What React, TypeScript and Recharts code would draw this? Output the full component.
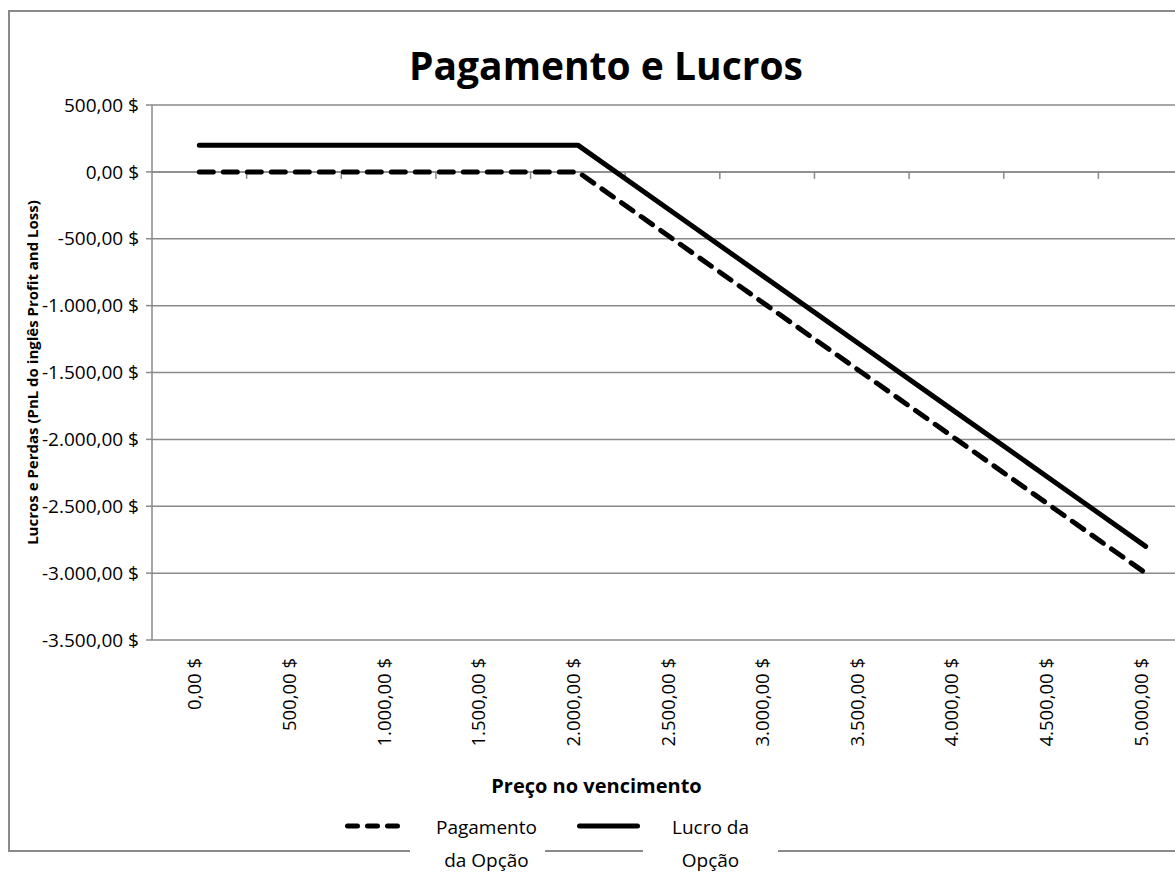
import { LineChart, Line, XAxis, YAxis, CartesianGrid, ReferenceLine, Legend } from "recharts";

const prices = [0, 500, 1000, 1500, 2000, 2500, 3000, 3500, 4000, 4500, 5000];
const payoff = [0, 0, 0, 0, 0, -500, -1000, -1500, -2000, -2500, -3000];
const profit = [200, 200, 200, 200, 200, -300, -800, -1300, -1800, -2300, -2800];
const yTicks = [500, 0, -500, -1000, -1500, -2000, -2500, -3000, -3500];

const data = prices.map((p, i) => ({ price: p, pagamento: payoff[i], lucro: profit[i] }));

const FONT = "'Open Sans', sans-serif";
const GRAY = "#8a8a8a";
const W = 1200;
const H = 864;

// "1.000,00 $" style
function fmt(v: number) {
  const sign = v < 0 ? "-" : "";
  const int = Math.abs(Math.round(v)).toString().replace(/\B(?=(\d{3})+(?!\d))/g, ".");
  return `${sign}${int},00 $`;
}

const PriceTick = (props: any) => {
  const { x, y, payload } = props;
  return (
    <g transform={`translate(${x},${y})`}>
      <text transform="rotate(-90)" x={0} y={2} textAnchor="end" fontSize={18.5} fontFamily={FONT} fill="#000">
        {fmt(payload.value)}
      </text>
    </g>
  );
};

// zero line doubles as the category axis: little ticks between categories
const ZeroAxis = (props: any) => {
  const { x1, x2, y1 } = props;
  const step = (x2 - x1) / prices.length;
  const marks = [];
  for (let k = 1; k < prices.length + 1; k++) {
    const x = x1 + k * step;
    marks.push(<line key={k} x1={x} x2={x} y1={y1} y2={y1 + 7} stroke={GRAY} strokeWidth={1.5} />);
  }
  return (
    <g>
      <line x1={x1} x2={x2} y1={y1} y2={y1} stroke={GRAY} strokeWidth={1.5} />
      {marks}
    </g>
  );
};

const legendItems = [
  { lines: ["Pagamento", "da Opção"], dash: "10 10", iconLeft: 332, iconLen: 50, textLeft: 402, pad: 18 },
  { lines: ["Lucro da", "Opção"], dash: undefined, iconLeft: 564, iconLen: 58, textLeft: 635, pad: 0 },
];

const LegendBox = () => (
  <div style={{ position: "relative", width: W, height: 66, fontFamily: FONT }}>
    {legendItems.map((it, i) => (
      <div key={i}>
        <svg
          width={it.iconLen + 15}
          height={12}
          style={{ position: "absolute", left: it.iconLeft, top: 12 }}
        >
          <line
            x1={7.5}
            x2={7.5 + it.iconLen}
            y1={6}
            y2={6}
            stroke="#000"
            strokeWidth={5}
            strokeLinecap="round"
            strokeDasharray={it.dash}
          />
        </svg>
        <div
          style={{
            position: "absolute",
            left: it.textLeft,
            top: 3,
            width: 135,
            paddingLeft: it.pad,
            boxSizing: "border-box",
            background: "#fff",
            textAlign: "center",
            fontSize: 19,
            lineHeight: "33px",
            color: "#000",
          }}
        >
          {it.lines.map((l) => (
            <div key={l}>{l}</div>
          ))}
        </div>
      </div>
    ))}
  </div>
);

export default function App() {
  return (
    <div
      style={{
        position: "fixed",
        left: 8,
        top: 10,
        width: 1167,
        height: H,
        overflow: "hidden",
        background: "#fff",
      }}
    >
      <div
        style={{
          position: "absolute",
          left: 0,
          top: 0,
          width: 1300,
          height: 842,
          border: `2px solid ${GRAY}`,
          boxSizing: "border-box",
        }}
      />
      <LineChart width={W} height={H} data={data} margin={{ top: 95, right: 15, bottom: 0, left: 0 }}>
        <CartesianGrid vertical={false} stroke={GRAY} strokeWidth={1.5} />
        <XAxis
          dataKey="price"
          type="number"
          domain={[-250, 5250]}
          ticks={prices}
          interval={0}
          axisLine={false}
          tickLine={false}
          tickSize={0}
          tickMargin={18}
          height={168}
          tick={<PriceTick />}
          label={{
            content: (p: any) => {
              const vb = p.viewBox;
              return (
                <text
                  x={vb.x + vb.width / 2 - 76}
                  y={vb.y + 153}
                  textAnchor="middle"
                  fontSize={20}
                  fontWeight="bold"
                  fontFamily={FONT}
                  fill="#000"
                >
                  Preço no vencimento
                </text>
              );
            },
          }}
        />
        <YAxis
          width={144}
          domain={[-3500, 500]}
          ticks={yTicks}
          interval={0}
          tickFormatter={fmt}
          axisLine={{ stroke: GRAY, strokeWidth: 1.5 }}
          tickLine={{ stroke: GRAY, strokeWidth: 1.5 }}
          tickSize={6}
          tickMargin={7}
          tick={{ fontSize: 19, fontFamily: FONT, fill: "#000" }}
          label={{
            content: (p: any) => {
              const vb = p.viewBox;
              const cy = vb.y + vb.height / 2;
              return (
                <text
                  x={30}
                  y={cy}
                  transform={`rotate(-90, 30, ${cy})`}
                  textAnchor="middle"
                  fontSize={15}
                  fontWeight="bold"
                  fontFamily={FONT}
                  fill="#000"
                >
                  Lucros e Perdas (PnL do inglês Profit and Loss)
                </text>
              );
            },
          }}
        />
        <ReferenceLine y={0} shape={<ZeroAxis />} />
        <Line
          dataKey="pagamento"
          name="Pagamento da Opção"
          stroke="#000"
          strokeWidth={5}
          strokeDasharray="14 10"
          strokeLinecap="round"
          strokeLinejoin="round"
          dot={false}
          activeDot={false}
          isAnimationActive={false}
        />
        <Line
          dataKey="lucro"
          name="Lucro da Opção"
          stroke="#000"
          strokeWidth={5}
          strokeLinecap="round"
          strokeLinejoin="round"
          dot={false}
          activeDot={false}
          isAnimationActive={false}
        />
        <Legend
          verticalAlign="bottom"
          content={<LegendBox />}
          wrapperStyle={{ left: 0, width: W, height: 66, bottom: 0 }}
        />
      </LineChart>
      <div
        style={{
          position: "absolute",
          left: 0,
          top: 32,
          width: 1196,
          textAlign: "center",
          fontFamily: FONT,
          fontSize: 39,
          fontWeight: "bold",
          lineHeight: "46px",
          color: "#000",
        }}
      >
        Pagamento e Lucros
      </div>
    </div>
  );
}
